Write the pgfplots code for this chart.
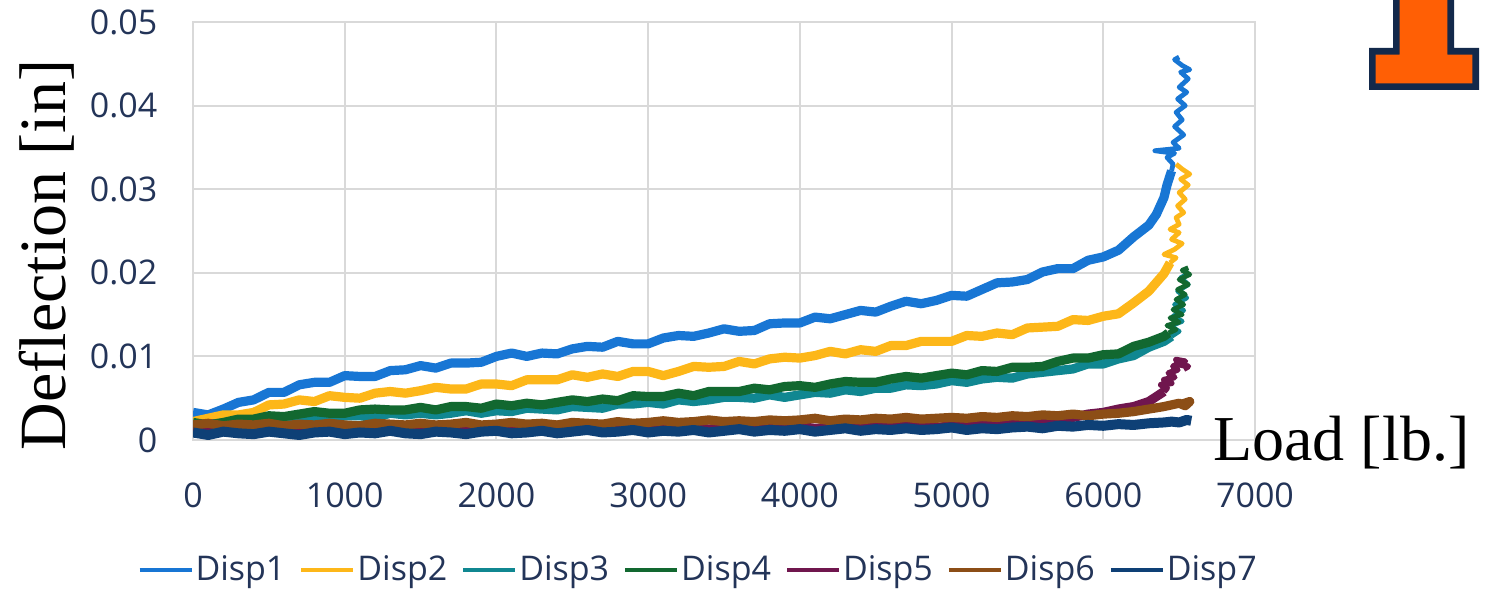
\documentclass[border=0pt]{standalone}
\usepackage{pgfplots}
\pgfplotsset{compat=1.18}
\usepackage{fontspec}
\setmainfont{Liberation Serif}
\newfontfamily\osans{Open Sans}
\definecolor{tickc}{RGB}{35,52,88}
\definecolor{gridc}{RGB}{217,217,217}
\definecolor{c1}{RGB}{24,118,212}
\definecolor{c2}{RGB}{253,183,25}
\definecolor{c3}{RGB}{16,135,145}
\definecolor{c4}{RGB}{18,104,48}
\definecolor{c5}{RGB}{112,22,78}
\definecolor{c6}{RGB}{140,78,22}
\definecolor{c7}{RGB}{14,64,118}
\definecolor{illorange}{RGB}{255,95,5}
\definecolor{illnavy}{RGB}{19,41,75}
\pgfplotsset{
  mainline/.style={line width=4.6pt, line join=round},
  tailline/.style={line width=2.4pt, line join=round, forget plot},
}
\begin{document}
\begin{tikzpicture}
\begin{axis}[
  at={(0pt,0pt)}, anchor=south west,
  scale only axis, width=531pt, height=209pt,
  xmin=0, xmax=7000, ymin=0, ymax=0.05,
  xtick={0,1000,...,7000}, ytick={0,0.01,0.02,0.03,0.04,0.05},
  scaled y ticks=false, scaled x ticks=false,
  major tick length=0pt,
  grid=major, grid style={gridc, line width=1pt},
  axis line style={gridc, line width=1pt},
  /pgf/number format/assume math mode=true,
  x tick label style={/pgf/number format/1000 sep={}, font=\osans\fontsize{17}{20}\selectfont, text=tickc, yshift=-18pt},
  y tick label style={/pgf/number format/fixed, /pgf/number format/precision=2, font=\osans\fontsize{17}{20}\selectfont, text=tickc, xshift=-14.3pt},
  legend columns=-1,
  legend style={at={(rel axis cs:0.476,-0.311)}, anchor=center, draw=none, fill=none,
    font=\osans\fontsize{17}{20}\selectfont, text=tickc,
    /tikz/every even column/.append style={column sep=6pt},
    nodes={inner sep=1.2pt}},
  legend image code/.code={\draw[#1, line width=1.6pt] (0pt,0pt) -- (26pt,0pt);},
]
% Disp1
\addplot[mainline, c1] coordinates {(0,.0033)(100,.0030)(200,.0037)(300,.0045)(400,.0048)(500,.0057)(600,.0057)(700,.0066)(800,.0069)(900,.0069)(1000,.0077)(1100,.0076)(1200,.0076)(1300,.0083)(1400,.0084)(1500,.0089)(1600,.0086)(1700,.0092)(1800,.0092)(1900,.0093)(2000,.0100)(2100,.0104)(2200,.0100)(2300,.0104)(2400,.0103)(2500,.0109)(2600,.0112)(2700,.0111)(2800,.0118)(2900,.0115)(3000,.0115)(3100,.0122)(3200,.0125)(3300,.0124)(3400,.0128)(3500,.0133)(3600,.0130)(3700,.0131)(3800,.0139)(3900,.0140)(4000,.0140)(4100,.0147)(4200,.0145)(4300,.0150)(4400,.0155)(4500,.0153)(4600,.0160)(4700,.0166)(4800,.0163)(4900,.0167)(5000,.0173)(5100,.0172)(5200,.0180)(5300,.0188)(5400,.0189)(5500,.0192)(5600,.0201)(5700,.0205)(5800,.0205)(5900,.0215)(6000,.0219)(6100,.0227)(6200,.0243)(6300,.0257)(6350,.0270)(6400,.0290)(6420,.0305)(6450,.0322)};
\addlegendentry{Disp1}
\addplot[tailline, c1] coordinates {(6450,.0322)(6460,.0330)(6420,.0338)(6470,.0343)(6340,.0346)(6500,.0349)(6460,.0356)(6530,.0365)(6470,.0375)(6520,.0383)(6480,.0392)(6540,.0400)(6490,.0408)(6550,.0416)(6500,.0422)(6560,.0432)(6510,.0440)(6570,.0443)(6520,.0448)(6470,.0455)(6500,.0458)};
% Disp2
\addplot[mainline, c2] coordinates {(0,.0022)(100,.0026)(200,.0030)(300,.0030)(400,.0033)(500,.0042)(600,.0043)(700,.0048)(800,.0046)(900,.0053)(1000,.0051)(1100,.0050)(1200,.0056)(1300,.0058)(1400,.0056)(1500,.0059)(1600,.0063)(1700,.0061)(1800,.0061)(1900,.0067)(2000,.0067)(2100,.0065)(2200,.0072)(2300,.0072)(2400,.0072)(2500,.0078)(2600,.0075)(2700,.0079)(2800,.0076)(2900,.0082)(3000,.0082)(3100,.0077)(3200,.0082)(3300,.0088)(3400,.0087)(3500,.0088)(3600,.0094)(3700,.0091)(3800,.0097)(3900,.0099)(4000,.0098)(4100,.0101)(4200,.0106)(4300,.0103)(4400,.0108)(4500,.0106)(4600,.0113)(4700,.0113)(4800,.0118)(4900,.0118)(5000,.0118)(5100,.0125)(5200,.0124)(5300,.0128)(5400,.0126)(5500,.0134)(5600,.0135)(5700,.0136)(5800,.0144)(5900,.0143)(6000,.0148)(6100,.0151)(6200,.0164)(6300,.0178)(6400,.0199)(6440,.0212)};
\addlegendentry{Disp2}
\addplot[tailline, c2] coordinates {(6440,.0212)(6480,.0218)(6400,.0222)(6470,.0228)(6520,.0235)(6450,.0240)(6500,.0248)(6440,.0252)(6500,.0258)(6480,.0266)(6530,.0272)(6490,.0280)(6540,.0288)(6500,.0296)(6560,.0305)(6510,.0312)(6570,.0318)(6520,.0324)(6480,.0330)};
% Disp3
\addplot[mainline, c3] coordinates {(0,.0017)(100,.0019)(200,.0020)(300,.0017)(400,.0021)(500,.0022)(600,.0026)(700,.0024)(800,.0027)(900,.0025)(1000,.0029)(1100,.0029)(1200,.0027)(1300,.0032)(1400,.0030)(1500,.0032)(1600,.0030)(1700,.0032)(1800,.0035)(1900,.0032)(2000,.0035)(2100,.0034)(2200,.0038)(2300,.0037)(2400,.0036)(2500,.0040)(2600,.0039)(2700,.0038)(2800,.0043)(2900,.0043)(3000,.0045)(3100,.0043)(3200,.0048)(3300,.0046)(3400,.0048)(3500,.0051)(3600,.0051)(3700,.0050)(3800,.0054)(3900,.0051)(4000,.0054)(4100,.0057)(4200,.0056)(4300,.0060)(4400,.0058)(4500,.0062)(4600,.0062)(4700,.0066)(4800,.0065)(4900,.0067)(5000,.0071)(5100,.0069)(5200,.0073)(5300,.0075)(5400,.0074)(5500,.0079)(5600,.0081)(5700,.0083)(5800,.0085)(5900,.0091)(6000,.0091)(6100,.0097)(6200,.0101)(6300,.0111)(6400,.0118)(6450,.0124)};
\addlegendentry{Disp3}
\addplot[tailline, c3] coordinates {(6450,.0124)(6500,.0130)(6440,.0136)(6520,.0142)(6460,.0148)(6530,.0155)(6470,.0162)(6550,.0170)(6490,.0178)(6560,.0186)(6510,.0194)(6570,.0200)};
% Disp4
\addplot[mainline, c4] coordinates {(0,.0021)(100,.0018)(200,.0021)(300,.0025)(400,.0025)(500,.0029)(600,.0028)(700,.0031)(800,.0034)(900,.0032)(1000,.0032)(1100,.0036)(1200,.0037)(1300,.0036)(1400,.0036)(1500,.0039)(1600,.0036)(1700,.0040)(1800,.0040)(1900,.0038)(2000,.0043)(2100,.0041)(2200,.0044)(2300,.0042)(2400,.0045)(2500,.0048)(2600,.0046)(2700,.0049)(2800,.0047)(2900,.0053)(3000,.0052)(3100,.0052)(3200,.0056)(3300,.0053)(3400,.0058)(3500,.0058)(3600,.0058)(3700,.0062)(3800,.0060)(3900,.0064)(4000,.0065)(4100,.0063)(4200,.0067)(4300,.0070)(4400,.0069)(4500,.0069)(4600,.0073)(4700,.0076)(4800,.0074)(4900,.0077)(5000,.0080)(5100,.0078)(5200,.0083)(5300,.0082)(5400,.0087)(5500,.0087)(5600,.0088)(5700,.0094)(5800,.0098)(5900,.0098)(6000,.0102)(6100,.0103)(6200,.0112)(6300,.0117)(6400,.0124)(6430,.0128)};
\addlegendentry{Disp4}
\addplot[tailline, c4] coordinates {(6430,.0128)(6480,.0132)(6420,.0137)(6500,.0141)(6440,.0146)(6520,.0150)(6460,.0156)(6530,.0162)(6480,.0168)(6540,.0174)(6490,.0180)(6560,.0186)(6500,.0192)(6570,.0198)(6520,.0203)(6560,.0206)};
% Disp5
\addplot[mainline, c5] coordinates {(0,.0012)(100,.0014)(200,.0011)(300,.0013)(400,.0012)(500,.0014)(600,.0011)(700,.0013)(800,.0012)(900,.0014)(1000,.0012)(1100,.0013)(1200,.0015)(1300,.0012)(1400,.0013)(1500,.0014)(1600,.0012)(1700,.0015)(1800,.0013)(1900,.0012)(2000,.0014)(2100,.0013)(2200,.0015)(2300,.0012)(2400,.0014)(2500,.0013)(2600,.0015)(2700,.0013)(2800,.0012)(2900,.0014)(3000,.0015)(3100,.0013)(3200,.0014)(3300,.0016)(3400,.0013)(3500,.0015)(3600,.0014)(3700,.0016)(3800,.0014)(3900,.0015)(4000,.0016)(4100,.0014)(4200,.0015)(4300,.0017)(4400,.0015)(4500,.0016)(4600,.0015)(4700,.0017)(4800,.0016)(4900,.0015)(5000,.0017)(5100,.0018)(5200,.0018)(5300,.0020)(5400,.0020)(5500,.0022)(5600,.0023)(5700,.0026)(5800,.0027)(5900,.0031)(6000,.0033)(6100,.0037)(6200,.0040)(6300,.0046)(6350,.0052)(6400,.0058)};
\addlegendentry{Disp5}
\addplot[tailline, c5, line width=3pt] coordinates {(6400,.0058)(6420,.0062)(6380,.0066)(6450,.0068)(6400,.0072)(6470,.0075)(6430,.0080)(6490,.0084)(6460,.0088)(6500,.0092)(6480,.0096)(6540,.0094)(6510,.0090)(6560,.0088)(6530,.0085)};
% Disp6
\addplot[mainline, c6] coordinates {(0,.0018)(100,.0020)(200,.0017)(300,.0019)(400,.0018)(500,.0020)(600,.0017)(700,.0019)(800,.0018)(900,.0020)(1000,.0018)(1100,.0017)(1200,.0020)(1300,.0019)(1400,.0018)(1500,.0020)(1600,.0018)(1700,.0019)(1800,.0021)(1900,.0018)(2000,.0019)(2100,.0021)(2200,.0019)(2300,.0020)(2400,.0018)(2500,.0021)(2600,.0020)(2700,.0019)(2800,.0022)(2900,.0020)(3000,.0021)(3100,.0023)(3200,.0021)(3300,.0022)(3400,.0024)(3500,.0022)(3600,.0023)(3700,.0022)(3800,.0024)(3900,.0023)(4000,.0024)(4100,.0026)(4200,.0023)(4300,.0025)(4400,.0024)(4500,.0026)(4600,.0025)(4700,.0027)(4800,.0025)(4900,.0026)(5000,.0027)(5100,.0026)(5200,.0028)(5300,.0027)(5400,.0029)(5500,.0028)(5600,.0030)(5700,.0029)(5800,.0031)(5900,.0029)(6000,.0031)(6100,.0032)(6200,.0034)(6300,.0037)(6400,.0040)(6450,.0042)(6500,.0044)(6540,.0041)(6570,.0046)(6520,.0043)};
\addlegendentry{Disp6}
% Disp7
\addplot[mainline, c7, line width=5pt] coordinates {(0,.0009)(100,.0006)(200,.0010)(300,.0008)(400,.0007)(500,.0010)(600,.0008)(700,.0006)(800,.0009)(900,.0010)(1000,.0007)(1100,.0009)(1200,.0008)(1300,.0011)(1400,.0008)(1500,.0007)(1600,.0010)(1700,.0009)(1800,.0007)(1900,.0010)(2000,.0011)(2100,.0008)(2200,.0009)(2300,.0011)(2400,.0008)(2500,.0010)(2600,.0012)(2700,.0009)(2800,.0010)(2900,.0012)(3000,.0009)(3100,.0011)(3200,.0010)(3300,.0012)(3400,.0009)(3500,.0011)(3600,.0013)(3700,.0010)(3800,.0012)(3900,.0011)(4000,.0013)(4100,.0010)(4200,.0012)(4300,.0014)(4400,.0011)(4500,.0013)(4600,.0012)(4700,.0014)(4800,.0012)(4900,.0013)(5000,.0015)(5100,.0012)(5200,.0014)(5300,.0013)(5400,.0015)(5500,.0016)(5600,.0014)(5700,.0017)(5800,.0016)(5900,.0018)(6000,.0017)(6100,.0019)(6200,.0018)(6300,.0020)(6400,.0021)(6450,.0022)(6500,.0021)(6550,.0024)(6580,.0023)};
\addlegendentry{Disp7}
\end{axis}
% y label and x label
\node[rotate=90, anchor=base, inner sep=0pt, font=\fontsize{33}{40}\selectfont] at (-63.5pt,92.5pt) {Deflection [in]};
\node[anchor=base west, inner sep=0pt, font=\fontsize{32}{39}\selectfont] at (510pt,-10pt) {Load [lb.]};
% logo
\fill[illnavy] (600pt,230pt) -- (600pt,196pt) -- (588pt,196pt) -- (588pt,175pt) -- (643pt,175pt) -- (643pt,196pt) -- (630.5pt,196pt) -- (630.5pt,230pt) -- cycle;
\fill[illorange] (603.35pt,230pt) -- (603.35pt,192.65pt) -- (591.35pt,192.65pt) -- (591.35pt,178.35pt) -- (639.65pt,178.35pt) -- (639.65pt,192.65pt) -- (627.15pt,192.65pt) -- (627.15pt,230pt) -- cycle;
\pgfresetboundingbox
\useasboundingbox (-96.5pt,-74.5pt) rectangle (649pt,220pt);
\end{tikzpicture}
\end{document}
